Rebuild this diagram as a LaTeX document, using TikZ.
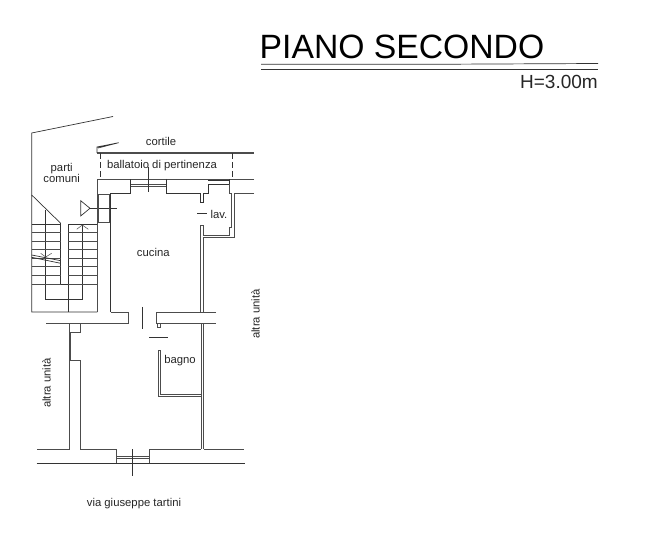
\documentclass[tikz,border=0pt]{standalone}
\usepackage{fontspec}
\setmainfont{Liberation Sans}
\tikzset{
  wall/.style={line width=0.8pt, black!70},
  thinwall/.style={line width=0.7pt, black!80},
  label/.style={inner sep=0pt, font=\fontsize{11.3}{13}\selectfont, black!85},
}
\begin{document}
\begin{tikzpicture}[x=1pt,y=-1pt]
  \useasboundingbox (0,0) rectangle (648,537);
  % title
  \node[anchor=base west, inner sep=0pt, font=\fontsize{33.7}{38}\selectfont] (title) at (259.5,58.5) {PIANO SECONDO};
  \node[anchor=base east, inner sep=0pt, font=\fontsize{19}{22}\selectfont, black!85] (height) at (598,88.5) {H=3.00m};
  \draw[thinwall] (261,64.3) -- (430,64.3) -- (598,63.5);
  \draw[thinwall] (261,69.3) -- (598,69.3);
  % parti comuni
  \draw[thinwall] (113,116.5) -- (31.7,133) -- (31.7,312) -- (97.3,312);
  \draw[line width=1.6pt, black!70] (97,153) -- (254,153);
  \draw[thinwall] (97,153) -- (97,147) -- (118.7,142.7) -- (98,148);
  \draw[thinwall, dash pattern=on 6pt off 3pt] (100,153) -- (100,179);
  \draw[thinwall, dash pattern=on 6pt off 3pt] (232,153) -- (232,179);
  % scale
  \draw[thinwall] (31.7,195) -- (60.7,223.3);
  \draw[thinwall] (45.7,210) -- (45.7,299) -- (82.3,299) -- (82.3,224.3);
  \draw[thinwall] (60.7,223.3) -- (60.7,284.3) -- (68.3,284.3);
  \draw[thinwall] (68.3,224.3) -- (68.3,312);
  \draw[thinwall] (31.7,224.3) -- (60.7,224.3);
  \draw[thinwall] (68.3,224.3) -- (97.3,224.3);
  \foreach \y in {232.7,241,249.3,258,266.7,275.3,284.3} {
    \draw[wall] (31.7,\y) -- (60.7,\y);
    \draw[wall] (68.3,\y) -- (97.3,\y);
  }
  \draw[thinwall] (31.7,255) -- (60.7,260.7);
  \draw[thinwall] (31.7,257.3) -- (60.7,263.3);
  \draw[wall, line width=0.5pt] (40.7,253.3) -- (45.7,257) -- (51.7,253.3);
  \draw[wall, line width=0.5pt] (76.7,229.3) -- (82.3,225) -- (88.3,229.3);
  % ingresso
  \draw[thinwall] (90,208.3) -- (80.7,200.7) -- (80.7,216) -- cycle;
  \draw[thinwall] (90,208.3) -- (116.7,208.3);
  \draw[wall] (98.3,194) rectangle (109.3,222.7);
  % muro nord
  \draw[wall] (254,179) -- (97.3,179) -- (97.3,312);
  \draw[wall] (97.3,193) -- (98.3,193);
  \draw[thinwall] (110.7,312) -- (110.7,193) -- (130.7,193) -- (130.7,179);
  \draw[wall] (130.7,184) -- (166,184);
  \draw[wall] (130.7,186.7) -- (166,186.7);
  \draw[thinwall] (148.3,167) -- (148.3,191.7);
  \draw[thinwall] (166,179) -- (166,193) -- (200,193) -- (200,202) -- (203.7,202) -- (203.7,193) -- (208,193) -- (208,184) -- (229.3,184) -- (229.3,179);
  \draw[line width=1.4pt, black!80] (208,180.7) -- (229.3,180.7);
  % lavanderia
  \draw[wall] (229.3,184) -- (229.3,193) -- (231.3,193) -- (231.3,227) -- (229,227) -- (229,235) -- (203.7,235) -- (203.7,225) -- (200.5,225) -- (200.5,312);
  \draw[wall] (254,193) -- (234,193) -- (234,237.3) -- (203.7,237.3) -- (203.7,312);
  \draw[thinwall] (197.3,213.3) -- (206.7,213.3);
  % muro centrale
  \draw[wall] (110.7,312) -- (128.3,312) -- (128.3,323.3) -- (46,323.3);
  \draw[wall] (216,312) -- (156.7,312) -- (156.7,323.3) -- (216,323.3);
  \draw[wall] (157.3,323.3) -- (157.3,327) -- (160,327) -- (160,323.3);
  \draw[thinwall] (142.3,307) -- (142.3,329);
  \draw[thinwall] (149,337.7) -- (167.7,337.7);
  % bagno e soggiorno
  \draw[wall] (160.5,350.7) -- (158.3,350.7) -- (158.3,396.7) -- (201.7,396.7);
  \draw[wall] (160.5,350.7) -- (160.5,394) -- (200.5,394);
  \draw[wall] (201,323.3) -- (201,449);
  \draw[wall] (203.7,323.3) -- (203.7,449);
  \draw[wall] (69,323.3) -- (69,449) -- (36.7,449);
  \draw[wall] (80,323.3) -- (80,332) -- (70.7,332) -- (70.7,360) -- (80,360) -- (80,449) -- (116,449) -- (116,463.3);
  \draw[wall] (149,463.3) -- (149,449) -- (201,449);
  \draw[wall] (203.7,449) -- (244,449);
  \draw[thinwall] (36.7,463.3) -- (245,463.3);
  \draw[wall] (116,456.7) -- (149,456.7);
  \draw[wall] (116,458.7) -- (149,458.7);
  \draw[thinwall] (132.3,449.3) -- (132.3,475.7);
  % scritte
  \node[label] (cortile) at (161,141.5) {cortile};
  \node[label] (parti) at (61.7,169) {parti};
  \node[label] (comuni) at (61.7,178.5) {comuni};
  \node[label] (ballatoio) at (162,166) {ballatoio di pertinenza};
  \node[label] (lav) at (219,214) {lav.};
  \node[label] (cucina) at (153.3,252.5) {cucina};
  \node[label] (bagno) at (180,361) {bagno};
  \node[label, rotate=90] (altradx) at (255.5,314) {altra unità};
  \node[label, rotate=90] (altrasx) at (46.5,383) {altra unità};
  \node[label] (via) at (134,503.5) {via giuseppe tartini};
\end{tikzpicture}
\end{document}
